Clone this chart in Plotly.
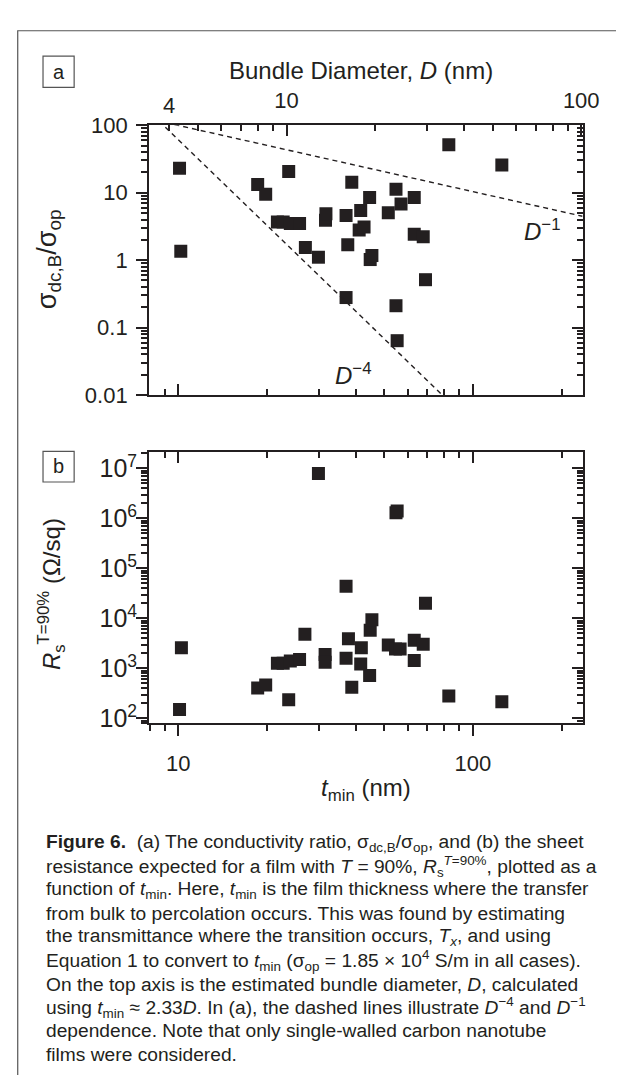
import numpy as np
import plotly.graph_objects as go

W, H = 624, 1076

# ---------------- data ----------------
# panel a: conductivity ratio vs t_min
t_a = [10.1, 10.2, 18.6, 19.8, 21.7, 22.7, 23.7, 24.0, 25.8, 27.0, 29.9, 31.6, 31.7,
       37.1, 37.1, 37.6, 38.8, 41.1, 41.6, 42.7, 44.6, 44.8, 45.4, 51.6, 54.8, 54.8,
       55.3, 57.0, 63.2, 63.2, 67.8, 69.0, 82.8, 125.3]
ratio_a = [23.0, 1.35, 13.2, 9.5, 3.67, 3.67, 20.6, 3.48, 3.48, 1.54, 1.105, 3.89, 4.87,
           4.59, 0.279, 1.69, 14.3, 2.79, 5.43, 3.11, 8.47, 1.02, 1.17, 5.02, 11.2, 0.211,
           0.064, 6.79, 8.47, 2.42, 2.23, 0.513, 51.3, 25.8]

# panel b: sheet resistance at T=90% vs t_min
t_b = [10.1, 10.25, 18.6, 19.8, 21.7, 22.7, 23.7, 24.0, 25.8, 26.9, 29.9, 31.5, 31.5,
       37.1, 37.1, 37.8, 38.8, 41.6, 41.8, 44.6, 44.8, 45.4, 51.6, 54.8, 55.3, 54.6,
       56.6, 63.2, 63.2, 67.8, 69.0, 82.8, 125.3]
rs_b = [150, 2600, 405, 465, 1270, 1270, 236, 1400, 1500, 4800, 7.9e6, 1900, 1330,
        44000, 1600, 3900, 420, 1230, 2600, 720, 5800, 9400, 2950, 1.3e6, 1.4e6, 2430,
        2430, 3650, 1440, 3050, 20000, 280, 215]

# dashed guide lines (bundle diameter D, ratio)
d4_D = [3.69, 33.8]
d4_s = [115.8, 0.01]
d1_D = [3.63, 101.0]
d1_s = [117.0, 4.47]

t_range = [7.96, 235.5]
D_per_t = 2.33
D_range = [t / D_per_t for t in t_range]

t_major = [10, 100]
t_major_text = ["10", "100"]
D_major = [10, 100]
D_major_text = ["10", "100"]
ya_vals = [0.01, 0.1, 1, 10, 100]
ya_text = ["0.01", "0.1", "1", "10", "100"]
yb_vals = [1e2, 1e3, 1e4, 1e5, 1e6, 1e7]
yb_text = ["10<sup>2</sup>", "10<sup>3</sup>", "10<sup>4</sup>", "10<sup>5</sup>",
           "10<sup>6</sup>", "10<sup>7</sup>"]

caption_lines = [
    "<b>Figure 6.</b>  (a) The conductivity ratio, σ<sub>dc,B</sub>/σ<sub>op</sub>, and (b) the sheet",
    "resistance expected for a film with <i>T</i> = 90%, <i>R</i><sub>s</sub><sup><i>T</i>=90%</sup>, plotted as a",
    "function of <i>t</i><sub>min</sub>. Here, <i>t</i><sub>min</sub> is the film thickness where the transfer",
    "from bulk to percolation occurs. This was found by estimating",
    "the transmittance where the transition occurs, <i>T<sub>x</sub></i>, and using",
    "Equation 1 to convert to <i>t</i><sub>min</sub> (σ<sub>op</sub> = 1.85 × 10<sup>4</sup> S/m in all cases).",
    "On the top axis is the estimated bundle diameter, <i>D</i>, calculated",
    "using <i>t</i><sub>min</sub> ≈ 2.33<i>D</i>. In (a), the dashed lines illustrate <i>D</i><sup>−4</sup> and <i>D</i><sup>−1</sup>",
    "dependence. Note that only single-walled carbon nanotube",
    "films were considered.",
]

# ---------------- helpers ----------------
def fx(px):
    return px / W

def fy(py):
    return 1 - py / H

def minors(lo, hi):
    out = []
    for n in range(-3, 9):
        for k in range(2, 10):
            v = k * 10 ** n
            if lo <= v <= hi:
                out.append(v)
    return out

FONT = "Liberation Sans, Arial, Helvetica, sans-serif"
INK = "#231f20"

x_dom = [fx(145), fx(590.7)]
ya_dom = [fy(384), fy(107.7)]
yb_dom = [fy(720), fy(442.7)]

lt = [np.log10(t_range[0]), np.log10(t_range[1])]
lD = [np.log10(D_range[0]), np.log10(D_range[1])]
lya = [-2, 2]
lyb = [np.log10(79.8), np.log10(2.09e7)]

def axis(rng, dom, ticks, tv, tt, minor_vals, show_labels, lab_size=22, standoff=4, **kw):
    d = dict(type="log", range=rng, domain=dom, showgrid=False, zeroline=False,
             showline=True, linewidth=2, linecolor=INK,
             ticks=ticks, ticklen=11, tickwidth=1.6, tickcolor=INK,
             tickmode="array", tickvals=tv, ticktext=tt,
             showticklabels=show_labels,
             tickfont=dict(family=FONT, size=lab_size, color=INK),
             ticklabelstandoff=standoff,
             minor=dict(tickmode="array", tickvals=minor_vals, ticks=ticks,
                        ticklen=6, tickwidth=1.6, tickcolor=INK, showgrid=False),
             fixedrange=True)
    d.update(kw)
    return d

fig = go.Figure()

marker = dict(symbol="square", size=13, color=INK, line=dict(width=0))

# panel a
fig.add_trace(go.Scatter(x=t_a, y=ratio_a, mode="markers", marker=marker,
                         xaxis="x", yaxis="y", showlegend=False, hoverinfo="skip"))
fig.add_trace(go.Scatter(x=d4_D, y=d4_s, mode="lines",
                         line=dict(color=INK, width=1.4, dash="5px,4px"),
                         xaxis="x2", yaxis="y", showlegend=False, hoverinfo="skip"))
fig.add_trace(go.Scatter(x=d1_D, y=d1_s, mode="lines",
                         line=dict(color=INK, width=1.4, dash="5px,4px"),
                         xaxis="x2", yaxis="y", showlegend=False, hoverinfo="skip"))
fig.add_trace(go.Scatter(x=[], y=[], xaxis="x", yaxis="y3", showlegend=False, hoverinfo="skip"))

# panel b
fig.add_trace(go.Scatter(x=t_b, y=rs_b, mode="markers", marker=marker,
                         xaxis="x3", yaxis="y2", showlegend=False, hoverinfo="skip"))
fig.add_trace(go.Scatter(x=[], y=[], xaxis="x4", yaxis="y2", showlegend=False, hoverinfo="skip"))
fig.add_trace(go.Scatter(x=[], y=[], xaxis="x3", yaxis="y4", showlegend=False, hoverinfo="skip"))

tmin = minors(t_range[0], t_range[1])
Dmin = minors(D_range[0], D_range[1])
yamin = minors(0.01, 100)
ybmin = minors(80, 2.1e7)

fig.update_layout(
    width=W, height=H, autosize=False,
    margin=dict(l=0, r=0, t=0, b=0, pad=0),
    paper_bgcolor="white", plot_bgcolor="rgba(0,0,0,0)",
    showlegend=False,
    font=dict(family=FONT, color=INK),
    # panel a
    xaxis=axis(lt, x_dom, "inside", t_major, t_major_text, tmin, False,
               anchor="y", side="bottom"),
    xaxis2=axis(lD, x_dom, "inside", D_major, D_major_text, Dmin, True,
                standoff=6, anchor="y", side="top", overlaying="x"),
    yaxis=axis(lya, ya_dom, "outside", ya_vals, ya_text, yamin, True,
               anchor="x", side="left"),
    yaxis3=axis(lya, ya_dom, "inside", ya_vals, ya_text, yamin, False,
                anchor="x", side="right", overlaying="y"),
    # panel b
    xaxis3=axis(lt, x_dom, "outside", t_major, t_major_text, tmin, True,
                standoff=8, anchor="y2", side="bottom"),
    xaxis4=axis(lt, x_dom, "inside", t_major, t_major_text, tmin, False,
                anchor="y2", side="top", overlaying="x3"),
    yaxis2=axis(lyb, yb_dom, "outside", yb_vals, yb_text, ybmin, True,
                lab_size=25, standoff=-6, anchor="x3", side="left"),
    yaxis4=axis(lyb, yb_dom, "inside", yb_vals, yb_text, ybmin, False,
                anchor="x3", side="right", overlaying="y2"),
)

ann = []
def text(px, py, s, size=24, angle=0, xanchor="center", yanchor="middle", align="center"):
    ann.append(dict(x=fx(px), y=fy(py), xref="paper", yref="paper", text=s,
                    showarrow=False, textangle=angle, xanchor=xanchor, yanchor=yanchor,
                    align=align, font=dict(family=FONT, size=size, color=INK)))

# top-axis label at D = 4
ann.append(dict(x=np.log10(4), y=fy(88), xref="x2", yref="paper", text="4",
                showarrow=False, xanchor="center", yanchor="middle",
                font=dict(family=FONT, size=22, color=INK)))

text(363, 52, "Bundle Diameter, <i>D</i> (nm)", size=24)
text(42, 245, "σ<sub>dc,B</sub>/σ<sub>op</sub>", size=27, angle=-90)
text(45, 588, "<i>R</i><sub>s</sub><sup>T=90%</sup> (Ω/sq)", size=24, angle=-90)
text(368, 788, "<i>t</i><sub>min</sub> (nm)", size=24)
text(549, 215, "<i>D</i><sup>−1</sup>", size=24)
text(355, 362, "<i>D</i><sup>−4</sup>", size=24)
text(52, 53, "a", size=20)
text(52, 457, "b", size=20)

for i, line in enumerate(caption_lines):
    text(37, 843 + 24 * i, line, size=19.2, xanchor="left", yanchor="middle", align="left")

shapes = [
    dict(type="path", xref="paper", yref="paper",
         path=f"M {fx(10)} {fy(1080)} L {fx(10)} {fy(11)} L {fx(630)} {fy(11)}",
         line=dict(color="#555555", width=1.2)),
    dict(type="rect", xref="paper", yref="paper", x0=fx(36), x1=fx(68), y0=fy(69), y1=fy(37),
         line=dict(color="#555555", width=1.2)),
    dict(type="rect", xref="paper", yref="paper", x0=fx(36), x1=fx(68), y0=fy(473), y1=fy(441.7),
         line=dict(color="#555555", width=1.2)),
]

fig.update_layout(annotations=ann, shapes=shapes)
fig.write_html("out.html")
